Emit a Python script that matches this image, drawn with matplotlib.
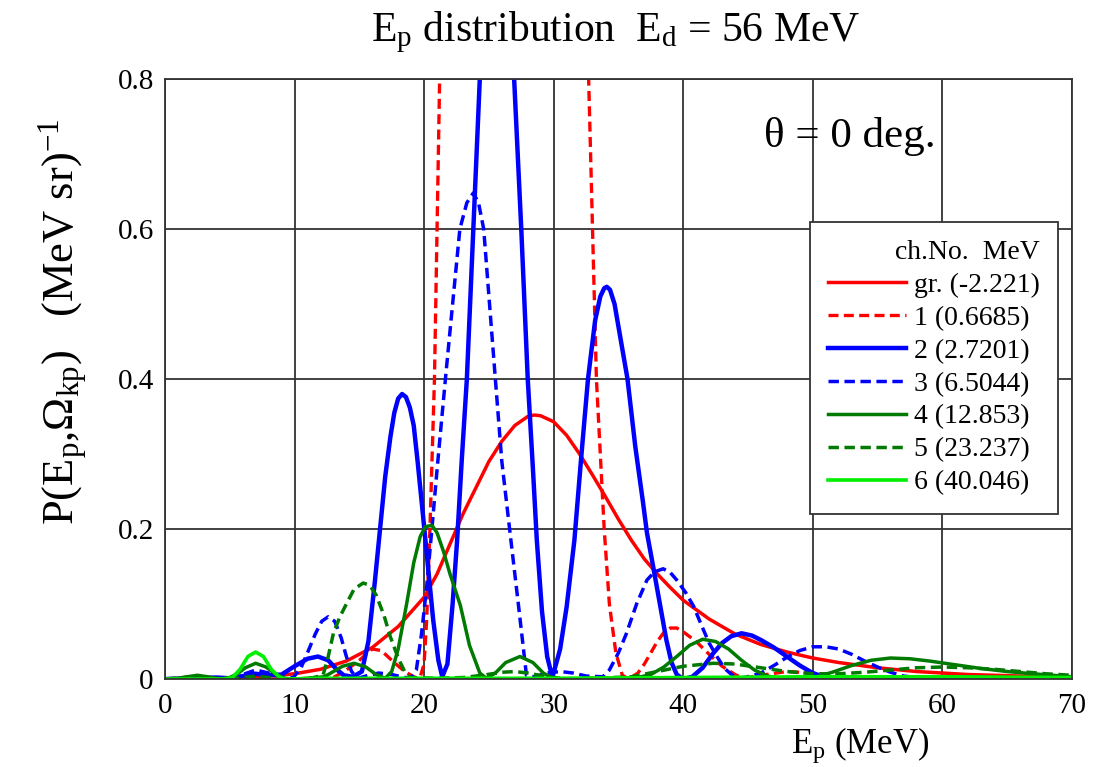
import matplotlib
matplotlib.use("Agg")
import matplotlib.pyplot as plt

plt.rcParams['font.family'] = ['Liberation Serif', 'DejaVu Serif']
plt.rcParams['mathtext.fontset'] = 'custom'
plt.rcParams['mathtext.rm'] = 'Liberation Serif'
plt.rcParams['mathtext.it'] = 'Liberation Serif:italic'

# gr. (-2.221)
e_gr = [0, 4, 8, 10, 12, 14, 16, 18, 20, 21, 22, 23, 24, 25, 26, 27, 28, 28.5, 29, 30,
        31, 32, 33, 34, 35, 36, 37, 38, 39, 40, 42, 44, 46, 48, 50, 52, 55, 58, 62, 66, 70]
p_gr = [0, 0.001, 0.004, 0.007, 0.013, 0.024, 0.042, 0.07, 0.109, 0.14, 0.18, 0.22, 0.255,
        0.29, 0.317, 0.338, 0.35, 0.352, 0.351, 0.343, 0.325, 0.30, 0.272, 0.243, 0.213,
        0.185, 0.16, 0.14, 0.122, 0.105, 0.08, 0.06, 0.046, 0.036, 0.028, 0.022, 0.015,
        0.01, 0.006, 0.004, 0.002]

# 1 (0.6685)
e_1 = [0, 10, 13, 14, 15, 16, 16.7, 17.5, 18.5, 19.3, 19.7, 20.0, 20.2, 20.45, 20.8, 21.0,
       21.2, 21.6, 22, 23, 24, 25, 27, 29, 30, 31, 32, 32.7, 33.0, 33.3, 33.6, 33.9, 34.3,
       34.8, 35.3, 35.8, 36.5, 37, 37.5, 38, 38.5, 39, 39.5, 40, 41, 42, 43, 44, 44.6,
       46, 48, 50, 52, 55, 70]
p_1 = [0, 0, 0.002, 0.012, 0.025, 0.04, 0.038, 0.025, 0.01, 0.002, 0.003, 0.02, 0.08, 0.2,
       0.4, 0.6, 0.8, 1.1, 1.35, 1.75, 2.0, 2.2, 2.3, 2.2, 2.0, 1.7, 1.25, 0.8, 0.6, 0.4,
       0.3, 0.2, 0.1, 0.035, 0.005, 0.0, 0.008, 0.02, 0.035, 0.05, 0.062, 0.068, 0.068,
       0.063, 0.05, 0.033, 0.017, 0.006, 0.001, 0.005, 0.01, 0.008, 0.003, 0.001, 0]

# 2 (2.7201)
e_2 = [0, 2, 4, 5, 6, 7, 8, 9, 10, 11, 11.8, 12.6, 13.3, 13.8, 14.5, 15.2, 15.7, 16.2, 16.6,
       17.0, 17.4, 17.7, 18.0, 18.3, 18.6, 18.9, 19.2, 19.5, 19.9, 20.3, 20.7, 21.1, 21.4,
       21.8, 22.2, 22.55, 22.9, 23.3, 23.8, 24.3, 24.9, 25.6, 26.3, 26.95, 27.5, 28.0,
       28.4, 28.7, 29.1, 29.5, 29.9, 30.5, 31.0, 31.6, 32.1, 32.65, 33.2, 33.6, 33.9, 34.1,
       34.35, 34.7, 35.1, 35.7, 36.3, 36.9, 37.2, 37.7, 38.2, 38.7, 39.1, 39.5, 40.0, 40.7,
       41.5, 42.3, 43, 43.7, 44.5, 45.3, 46, 47, 48, 49, 50, 51, 53, 56, 60, 65, 70]
p_2 = [0, 0.001, 0.002, 0.001, 0.004, 0.007, 0.005, 0.006, 0.017, 0.027, 0.03, 0.025, 0.012,
       0.005, 0.003, 0.01, 0.05, 0.13, 0.2, 0.27, 0.323, 0.355, 0.374, 0.38, 0.376, 0.362,
       0.338, 0.29, 0.221, 0.15, 0.079, 0.025, 0.003, 0.02, 0.1, 0.185, 0.29, 0.4, 0.6, 0.8,
       0.97, 1.04, 0.97, 0.8, 0.6, 0.4, 0.28, 0.185, 0.09, 0.03, 0.002, 0.04, 0.096, 0.185,
       0.29, 0.4, 0.478, 0.51, 0.521, 0.523, 0.519, 0.5, 0.46, 0.4, 0.31, 0.235, 0.195,
       0.148, 0.1, 0.052, 0.022, 0.006, 0.0, 0.003, 0.015, 0.034, 0.048, 0.057, 0.061,
       0.058, 0.052, 0.042, 0.03, 0.018, 0.008, 0.002, 0.001, 0.002, 0.002, 0.001, 0]

# 3 (6.5044)
e_3 = [0, 4, 5, 6, 7, 8, 9, 9.9, 10.5, 11, 11.6, 12.1, 12.6, 13.1, 13.6, 14.0, 14.4, 14.9,
       15.5, 16.5, 17.5, 18.5, 19.0, 19.4, 19.8, 20.2, 20.6, 21.0, 21.35, 21.7, 22.2, 22.76,
       23.3, 23.8, 24.2, 24.6, 25.05, 25.5, 26.0, 26.7, 27.3, 27.9, 28.5, 29.5, 30.5, 31.5,
       32.5, 33.8, 34.3, 35.0, 35.6, 36.4, 37.2, 37.8, 38.45, 39.0, 39.5, 40.2, 40.8, 41.5,
       42.0, 42.6, 43.2, 43.8, 44.4, 45.2, 46, 47, 48, 49, 50, 51, 52, 53, 54, 55, 56, 57,
       58, 60, 65, 70]
p_3 = [0, 0, 0.001, 0.006, 0.012, 0.008, 0.002, 0.002, 0.015, 0.035, 0.06, 0.077, 0.083,
       0.077, 0.055, 0.03, 0.01, 0.001, 0.004, 0.008, 0.006, 0.002, 0.002, 0.012, 0.06,
       0.123, 0.2, 0.279, 0.345, 0.41, 0.5, 0.6, 0.635, 0.648, 0.635, 0.6, 0.5, 0.4, 0.29,
       0.185, 0.096, 0.005, 0.003, 0.008, 0.01, 0.008, 0.004, 0.003, 0.012, 0.035, 0.06,
       0.1, 0.132, 0.143, 0.147, 0.142, 0.132, 0.115, 0.097, 0.068, 0.048, 0.03, 0.014,
       0.005, 0.001, 0.004, 0.008, 0.018, 0.029, 0.038, 0.043, 0.043, 0.04, 0.033, 0.024,
       0.016, 0.009, 0.004, 0.002, 0.001, 0.001, 0]

# 4 (12.853)
e_4 = [0, 1, 1.7, 2.5, 3.3, 4.2, 5, 5.6, 6.2, 7.0, 7.8, 8.5, 9.2, 10, 11, 12.3, 13, 13.7,
       14.6, 15.5, 16.3, 17.0, 17.5, 18, 18.65, 19.2, 19.7, 20.1, 20.6, 21.0, 21.5, 22,
       22.8, 23.5, 24.3, 24.8, 25.5, 26.3, 27.4, 28.4, 29.2, 29.9, 31, 33, 35, 36.5, 37.5,
       38.5, 39.5, 40.5, 41.5, 42.5, 43.5, 44.5, 45.5, 46.5, 47.5, 49, 50.3, 51.5, 53,
       54.5, 56, 57.5, 59, 61, 63, 65, 67, 70]
p_4 = [0, 0.001, 0.003, 0.005, 0.003, 0.0, 0.002, 0.007, 0.015, 0.021, 0.016, 0.007, 0.001,
       0, 0.001, 0.003, 0.01, 0.017, 0.021, 0.016, 0.006, 0.001, 0.01, 0.04, 0.1, 0.155,
       0.19, 0.203, 0.205, 0.195, 0.17, 0.14, 0.098, 0.045, 0.008, 0.001, 0.008, 0.022,
       0.03, 0.022, 0.008, 0.001, 0, 0.001, 0.001, 0.002, 0.006, 0.016, 0.03, 0.045, 0.053,
       0.05, 0.04, 0.025, 0.012, 0.004, 0.001, 0, 0.003, 0.009, 0.018, 0.025, 0.028, 0.027,
       0.024, 0.019, 0.014, 0.01, 0.007, 0.003]

# 5 (23.237)
e_5 = [0, 1.5, 2.5, 3.5, 5, 6, 7, 8, 9, 11, 12.2, 12.6, 13.0, 13.5, 14.0, 14.6, 15.3, 15.8,
       16.3, 16.9, 17.4, 18.0, 18.5, 18.9, 21, 23, 24.5, 26, 27, 28, 29.5, 31, 33, 36, 38,
       40, 42.3, 44, 46, 48, 50, 52, 54, 56, 58, 60, 62, 64, 66, 68, 70]
p_5 = [0, 0.002, 0.003, 0.001, 0, 0.002, 0.004, 0.002, 0, 0, 0.005, 0.03, 0.061, 0.083, 0.1,
       0.12, 0.128, 0.125, 0.112, 0.085, 0.056, 0.028, 0.01, 0.002, 0.001, 0.002, 0.005,
       0.009, 0.01, 0.008, 0.003, 0, 0.001, 0.003, 0.01, 0.017, 0.021, 0.02, 0.015, 0.01,
       0.007, 0.007, 0.009, 0.012, 0.015, 0.016, 0.015, 0.013, 0.01, 0.007, 0.005]

# 6 (40.046)
e_6 = [0, 3, 4.5, 5.2, 5.8, 6.4, 7.0, 7.6, 8.2, 8.8, 9.3, 12, 20, 30, 40, 50, 60, 70]
p_6 = [0, 0, 0, 0.002, 0.013, 0.03, 0.036, 0.03, 0.013, 0.003, 0, 0.001, 0.001, 0.001,
       0.002, 0.003, 0.003, 0.002]

x_ticks = [0, 10, 20, 30, 40, 50, 60, 70]
y_ticks = [0, 0.2, 0.4, 0.6, 0.8]
y_labels = ['0', '0.2', '0.4', '0.6', '0.8']

fig = plt.figure(figsize=(10.94, 7.67), dpi=100)
ax = fig.add_axes([0.1508, 0.1147, 0.829, 0.7823])

dash = (0, (3, 1.6))
ax.plot(e_gr, p_gr, color='#ff0000', lw=2.5, label='gr. (-2.221)')
ax.plot(e_1, p_1, color='#ff0000', lw=2.4, ls=dash, label='1 (0.6685)')
ax.plot(e_2, p_2, color='#0000ff', lw=3.2, label='2 (2.7201)')
ax.plot(e_3, p_3, color='#0000ff', lw=2.5, ls=dash, label='3 (6.5044)')
ax.plot(e_4, p_4, color='#007a00', lw=2.5, label='4 (12.853)')
ax.plot(e_5, p_5, color='#007a00', lw=2.5, ls=dash, label='5 (23.237)')
ax.plot(e_6, p_6, color='#00ee00', lw=2.6, label='6 (40.046)')

ax.set_xlim(0, 70)
ax.set_ylim(0, 0.8)
ax.set_xticks(x_ticks)
ax.set_xticklabels([str(v) for v in x_ticks])
ax.set_yticks(y_ticks)
ax.set_yticklabels(y_labels)
ax.tick_params(length=0, labelsize=21)
ax.tick_params(axis='x', pad=10)
ax.tick_params(axis='y', pad=8)
ax.grid(True, color='#333333', lw=1.3)
for s in ax.spines.values():
    s.set_color('#333333')
    s.set_linewidth(1.3)

leg = ax.legend(loc='upper right', bbox_to_anchor=(0.985, 0.762), borderaxespad=0,
                fontsize=20, title='ch.No.  MeV', title_fontsize=20, alignment='right',
                handlelength=2.8, handletextpad=0.3, labelspacing=0.27, fancybox=False,
                framealpha=1, edgecolor='#333333', borderpad=0.65)
leg.get_frame().set_linewidth(1.3)

ax.text(0.755, 0.905, 'θ = 0 deg.', transform=ax.transAxes, fontsize=31,
        ha='center', va='center')
ax.text(0.766, -0.11, r'E$_\mathrm{p}$ (MeV)', transform=ax.transAxes, fontsize=25,
        ha='center', va='center')

fig.text(0.563, 0.958, r'E$_\mathrm{p}$ distribution  E$_\mathrm{d}$ = 56 MeV',
         fontsize=30, ha='center', va='center')
fig.text(0.058, 0.58, r'P(E$_\mathrm{p}$,Ω$_\mathrm{kp}$)   (MeV sr)$^{-1}$',
         fontsize=32, rotation=90, ha='center', va='center')

fig.savefig('out.png', dpi=100)
